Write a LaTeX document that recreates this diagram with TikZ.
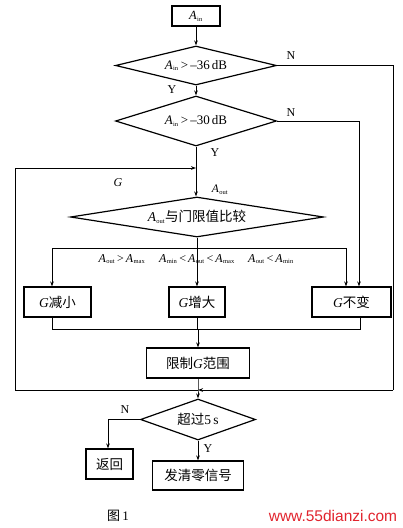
\documentclass[tikz,border=0pt]{standalone}
\usepackage{fontspec}
\setmainfont{Liberation Serif}
\newfontfamily\cjk{Noto Sans CJK SC}
\newfontfamily\wmfont{Liberation Sans}
\usetikzlibrary{shapes.geometric,arrows.meta}
\newcommand\Asb[1]{\textit{A}\kern0.3pt\textsubscript{\fontsize{6.5}{6.5}\selectfont #1}}
\definecolor{wmred}{RGB}{225,35,45}
\begin{document}
\begin{tikzpicture}[x=1pt,y=-1pt,line width=0.9pt,
  >={Stealth[length=5pt,width=3.6pt]},
  pbox/.style={draw,line width=1.2pt,inner sep=0pt,font=\fontsize{13.5}{15}\selectfont},
  dia/.style={draw,diamond,line width=1.2pt,inner sep=0pt,font=\fontsize{13.5}{15}\selectfont},
  yn/.style={font=\fontsize{12}{13}\selectfont},
  cond/.style={font=\fontsize{12}{13}\selectfont,inner sep=0pt}]
\useasboundingbox (0,0) rectangle (403,528);

% nodes
\node[pbox,minimum width=48pt,minimum height=20pt,font=\fontsize{12.5}{14}\selectfont] (ain) at (196,16) {\Asb{in}};
\node[dia,aspect=4,minimum width=161pt,minimum height=39pt,font=\fontsize{13}{14}\selectfont] (d1) at (196,65.5) {\Asb{in}\,>\,–36\,dB};
\node[dia,aspect=3,minimum width=161pt,minimum height=50pt,font=\fontsize{13}{14}\selectfont] (d2) at (196,121) {\Asb{in}\,>\,–30\,dB};
\node[dia,aspect=5,minimum width=253pt,minimum height=40pt] (d3) at (197,217) {\Asb{out}{\cjk 与门限值比较}};
\node[pbox,minimum width=67pt,minimum height=30pt] (gl) at (57.5,302) {\textit{G}{\cjk 减小}};
\node[pbox,minimum width=56pt,minimum height=30pt] (gm) at (197,302) {\textit{G}{\cjk 增大}};
\node[pbox,minimum width=79pt,minimum height=30pt] (gr) at (351.5,302) {\textit{G}{\cjk 不变}};
\node[pbox,minimum width=103pt,minimum height=30pt] (lim) at (198,363) {{\cjk 限制}\textit{G}{\cjk 范围}};
\node[dia,aspect=3,minimum width=115pt,minimum height=41pt] (d4) at (198,419.5) {{\cjk 超过}5\,s};
\node[pbox,minimum width=47pt,minimum height=30pt] (ret) at (109.5,464) {\cjk 返回};
\node[pbox,minimum width=91pt,minimum height=29pt] (clr) at (198,475.5) {\cjk 发清零信号};

% junction coordinates
\coordinate (jtop) at (196,168);
\coordinate (jbr) at (197,248);
\coordinate (jmg) at (198,329);
\coordinate (jbot) at (198,390);
\coordinate (l1) at (15,168);
\coordinate (l2) at (15,390);
\coordinate (r1) at (393,65.5);
\coordinate (r2) at (393,390);
\coordinate (n2) at (359,121);
\coordinate (bl) at (52,248);
\coordinate (br) at (346,248);
\coordinate (ml) at (52,329);
\coordinate (mr) at (360,329);
\coordinate (rn) at (108,419.5);

% connectors
\draw[->] (ain) -- (d1);
\draw[->] (d1) -- (d2);
\draw (d2.south) -- (jtop);
\draw[->] (jtop) -- (jtop |- d3.north);
\draw[->] (l2) -- (l1) -- (jtop);
\draw (d1.east) -- (r1) -- (r2);
\draw[->] (r2) -- (jbot);
\draw (l2) -- (jbot);
\draw[->] (d2.east) -- (n2) -- (n2 |- gr.north);
\draw (d3.south) -- (jbr);
\draw (bl) -- (br);
\draw[->] (bl) -- (bl |- gl.north);
\draw[->] (jbr) -- (gm.north);
\draw[->] (br) -- (br |- gr.north);
\draw (gl.south -| ml) -- (ml) -- (mr) -- (gr.south -| mr);
\draw (gm.south) -- (gm.south |- jmg);
\draw[->] (jmg) -- (lim.north);
\draw[->] (lim.south) -- (jbot) -- (d4.north);
\draw[->] (d4.west) -- (rn) -- (rn |- ret.north);
\draw[->] (d4.south) -- (clr.north);

% labels
\node[yn] (ln1) at (291,56) {N};
\node[yn] (ly1) at (172,90) {Y};
\node[yn] (ln2) at (291,113) {N};
\node[yn] (ly2) at (215,153) {Y};
\node[font=\fontsize{12}{13}\selectfont] (lg) at (118,183) {\textit{G}};
\node[font=\fontsize{11.5}{13}\selectfont] (lao) at (220,190) {\Asb{out}};
\node[cond] (c1) at (122,259) {\Asb{out}\,>\,\Asb{max}};
\node[cond] (c2) at (197,259) {\Asb{min}\,<\,\Asb{out}\,<\,\Asb{max}};
\node[cond] (c3) at (271,259) {\Asb{out}\,<\,\Asb{min}};
\node[yn] (ln4) at (125,410) {N};
\node[yn] (ly4) at (208,449) {Y};
\node[font=\fontsize{13}{15}\selectfont] (fig) at (118,516) {{\cjk 图}\,1};
\node[font=\wmfont\fontsize{15.5}{17}\selectfont,text=wmred,inner sep=0pt] (wm) at (333,516) {www.55dianzi.com};
\end{tikzpicture}
\end{document}
